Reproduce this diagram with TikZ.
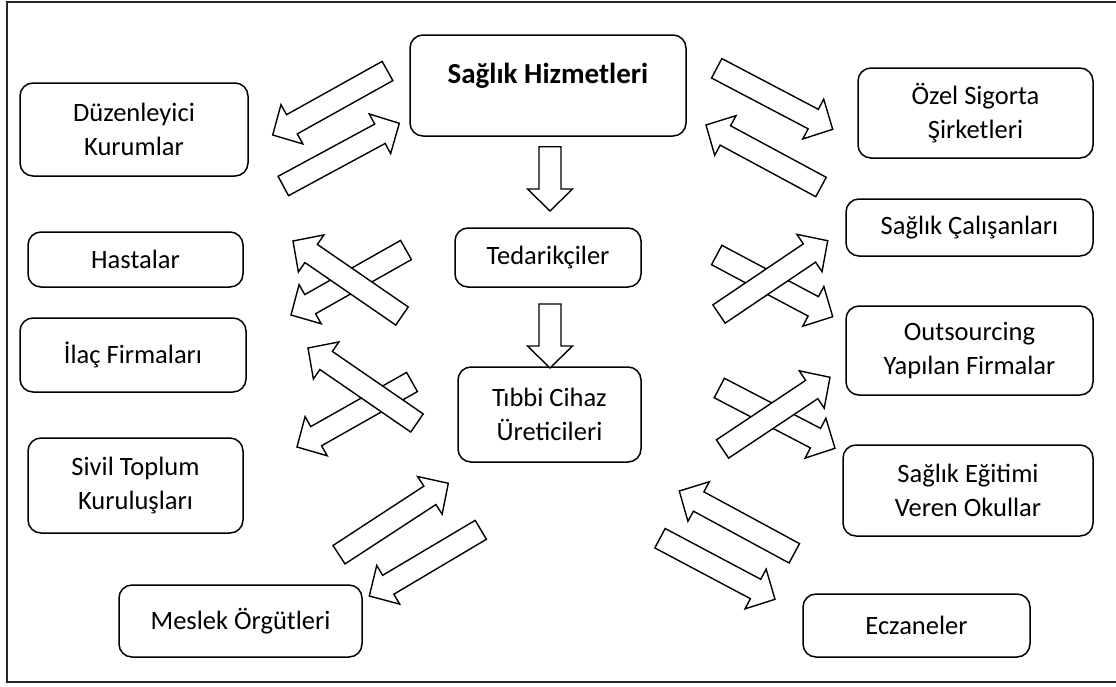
\documentclass[tikz,border=0pt]{standalone}
\usepackage{fontspec}
\setmainfont{Carlito}
\usetikzlibrary{calc}

\tikzset{
  box/.style={draw, line width=1.5pt, rounded corners=13pt, inner sep=2pt,
    align=center, font=\fontsize{26.5}{34}\selectfont},
  boldlabel/.style={inner sep=0pt, font=\bfseries\fontsize{29}{34}\selectfont},
  blockarrowline/.style={draw=black, fill=white, line width=1.4pt, line join=miter},
  frameline/.style={draw=black!85, line width=1.8pt}
}

% hollow block arrow from tail coordinate #1 to tip coordinate #2
\newcommand{\blockarrow}[2]{%
  \coordinate (hb) at ($(#2)!22pt!(#1)$);
  \path[blockarrowline]
    ($(#1)!11pt!90:(#2)$) -- ($(hb)!11pt!90:(#2)$) -- ($(hb)!22.5pt!90:(#2)$)
    -- (#2)
    -- ($(hb)!22.5pt!-90:(#2)$) -- ($(hb)!11pt!-90:(#2)$) -- ($(#1)!11pt!-90:(#2)$)
    -- cycle;}

\begin{document}
\begin{tikzpicture}[x=1pt, y=-1pt]
\useasboundingbox (0,0) rectangle (1116,686);

% outer frame
\draw[frameline] (1120,2) -- (7,2) -- (7,682) -- (1120,682);

% boxes
\node[box, minimum width=276pt, minimum height=101pt] (shbox) at (548,85.5) {};
\node[boldlabel] (shtext) at (548,76) {Sağlık Hizmetleri};
\node[box, minimum width=228pt, minimum height=93pt] (duz) at (134,129.5) {Düzenleyici\\Kurumlar};
\node[box, minimum width=235pt, minimum height=90pt] (ozel) at (975.5,113) {Özel Sigorta\\Şirketleri};
\node[box, minimum width=186pt, minimum height=59pt] (ted) at (548,257.5) {Tedarikçiler};
\node[box, minimum width=215pt, minimum height=55pt] (has) at (135.5,259.5) {Hastalar};
\node[box, minimum width=247pt, minimum height=57pt] (sc) at (969.5,227.5) {Sağlık Çalışanları};
\node[box, minimum width=226pt, minimum height=74pt] (ilac) at (133,355) {İlaç Firmaları};
\node[box, minimum width=247pt, minimum height=89pt] (out) at (969.5,350.5) {Outsourcing\\Yapılan Firmalar};
\node[box, minimum width=183pt, minimum height=95pt] (tib) at (549.5,414.5) {Tıbbi Cihaz\\Üreticileri};
\node[box, minimum width=215pt, minimum height=95pt] (sivil) at (135.5,485.5) {Sivil Toplum\\Kuruluşları};
\node[box, minimum width=250pt, minimum height=91pt] (egit) at (968,490.5) {Sağlık Eğitimi\\Veren Okullar};
\node[box, minimum width=243pt, minimum height=72pt] (meslek) at (240.5,621) {Meslek Örgütleri};
\node[box, minimum width=227pt, minimum height=63pt] (ecz) at (916.5,625.5) {Eczaneler};

% arrow end points
\coordinate (a1t) at (387.5,71);   \coordinate (a1h) at (272.7,135);
\coordinate (a2t) at (283.3,186);  \coordinate (a2h) at (399.3,123.3);
\coordinate (a3t) at (716.7,68.3); \coordinate (a3h) at (832.7,129.3);
\coordinate (a4t) at (821,187);    \coordinate (a4h) at (706,125);
\coordinate (d1t) at (550,146.7);  \coordinate (d1h) at (550,211);
\coordinate (d2t) at (550,304);    \coordinate (d2h) at (550,368);
\coordinate (l1ut) at (406,250);   \coordinate (l1uh) at (291,315);
\coordinate (l1ot) at (402,316);   \coordinate (l1oh) at (293,241);
\coordinate (l2ut) at (412,382);   \coordinate (l2uh) at (297,447);
\coordinate (l2ot) at (417,423);   \coordinate (l2oh) at (308,348);
\coordinate (r1ut) at (716.7,255); \coordinate (r1uh) at (832.7,316.7);
\coordinate (r1ot) at (719,314);   \coordinate (r1oh) at (827.7,240.7);
\coordinate (r2ut) at (719.3,388); \coordinate (r2uh) at (835,448.3);
\coordinate (r2ot) at (722.5,449); \coordinate (r2oh) at (830,377.3);
\coordinate (b1t) at (339,554.7);  \coordinate (b1h) at (448.3,483.3);
\coordinate (b2t) at (480.8,529.8);\coordinate (b2h) at (369.3,596);
\coordinate (b3t) at (794.3,553.3);\coordinate (b3h) at (679.3,491);
\coordinate (b4t) at (660,538.2);  \coordinate (b4h) at (775,599.3);

% block arrows
\blockarrow{a1t}{a1h}
\blockarrow{a2t}{a2h}
\blockarrow{a3t}{a3h}
\blockarrow{a4t}{a4h}
\blockarrow{d1t}{d1h}
\blockarrow{d2t}{d2h}
\blockarrow{l1ut}{l1uh}
\blockarrow{l1ot}{l1oh}
\blockarrow{l2ut}{l2uh}
\blockarrow{l2ot}{l2oh}
\blockarrow{r1ut}{r1uh}
\blockarrow{r1ot}{r1oh}
\blockarrow{r2ut}{r2uh}
\blockarrow{r2ot}{r2oh}
\blockarrow{b1t}{b1h}
\blockarrow{b2t}{b2h}
\blockarrow{b3t}{b3h}
\blockarrow{b4t}{b4h}
\end{tikzpicture}
\end{document}
